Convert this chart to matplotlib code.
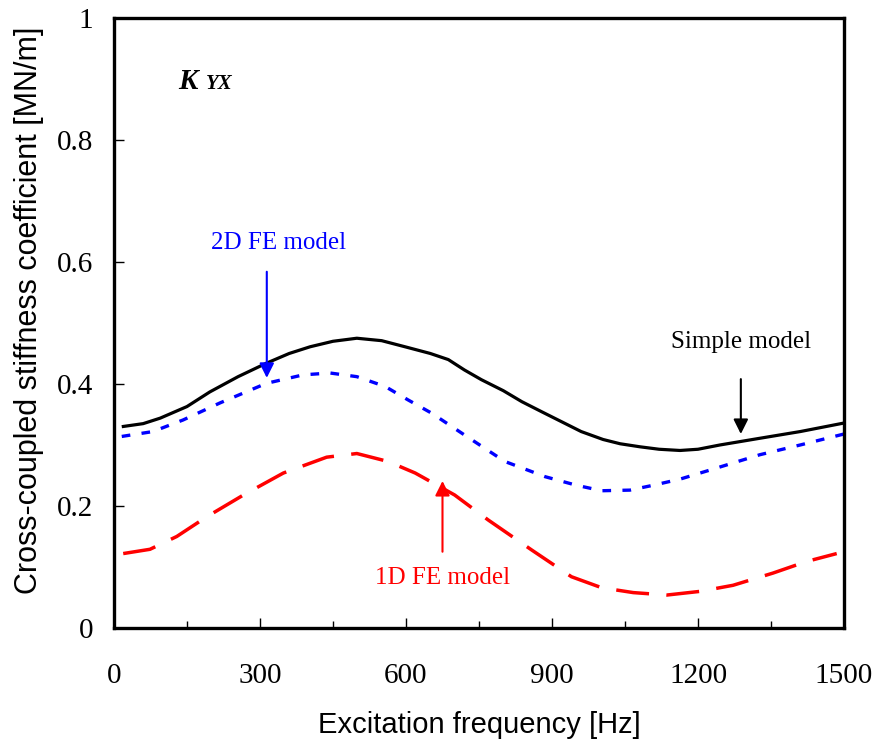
import matplotlib
matplotlib.use('Agg')
import matplotlib.pyplot as plt
from matplotlib.ticker import MultipleLocator, FuncFormatter

# frequency [Hz] and stiffness [MN/m]
freq_simple = [16, 60, 95, 150, 197, 255, 313, 360, 403, 450, 499, 550, 598,
               650, 687, 720, 755, 800, 838, 880, 920, 960, 1005, 1040, 1081,
               1120, 1163, 1200, 1245, 1327, 1410, 1500]
k_simple = [0.330, 0.335, 0.344, 0.363, 0.387, 0.412, 0.434, 0.450, 0.461,
            0.470, 0.475, 0.471, 0.461, 0.450, 0.440, 0.423, 0.407, 0.389,
            0.371, 0.354, 0.338, 0.322, 0.309, 0.302, 0.297, 0.293, 0.291,
            0.293, 0.300, 0.311, 0.322, 0.336]

freq_2d = [16, 80, 142, 218, 313, 389, 444, 499, 557, 604, 653, 721, 803,
           886, 950, 1002, 1060, 1108, 1163, 1225, 1327, 1410, 1500]
k_2d = [0.314, 0.322, 0.341, 0.369, 0.401, 0.415, 0.418, 0.412, 0.396,
        0.374, 0.352, 0.316, 0.273, 0.248, 0.234, 0.225, 0.226, 0.234,
        0.244, 0.259, 0.284, 0.300, 0.318]

freq_1d = [19, 74, 129, 190, 266, 348, 437, 499, 563, 619, 700, 769, 858,
           940, 1002, 1067, 1136, 1204, 1272, 1354, 1423, 1485]
k_1d = [0.122, 0.129, 0.150, 0.182, 0.218, 0.254, 0.280, 0.286, 0.273,
        0.254, 0.218, 0.177, 0.128, 0.084, 0.066, 0.058, 0.054, 0.060,
        0.070, 0.090, 0.109, 0.122]

serif = ['Liberation Serif', 'DejaVu Serif']
sans = ['Liberation Sans', 'DejaVu Sans']

fig = plt.figure(figsize=(8.78, 7.43), dpi=100)
ax = fig.add_axes([0.1298, 0.1548, 0.8315, 0.8210])

ax.plot(freq_simple, k_simple, color='black', lw=2.3, solid_capstyle='butt')
ax.plot(freq_2d, k_2d, color='#0000ff', lw=2.4, dashes=(2.6, 3.4))
ax.plot(freq_1d, k_1d, color='#ff0000', lw=2.5, dashes=(9.5, 5))

ax.set_xlim(0, 1500)
ax.set_ylim(0, 1)
ax.xaxis.set_major_locator(MultipleLocator(300))
ax.xaxis.set_minor_locator(MultipleLocator(150))
ax.yaxis.set_major_locator(MultipleLocator(0.2))
ax.yaxis.set_major_formatter(FuncFormatter(lambda v, p: '%g' % round(v, 2)))
ax.tick_params(which='both', direction='in', width=1, colors='black')
ax.tick_params(which='major', length=7)
ax.tick_params(which='minor', length=5)
ax.tick_params(axis='x', which='major', pad=25)
ax.tick_params(axis='y', which='major', pad=15)
for lab in ax.get_xticklabels() + ax.get_yticklabels():
    lab.set_family(serif)
    lab.set_fontsize(21)

for s in ax.spines.values():
    s.set_linewidth(2.4)

ax.set_xlabel('Excitation frequency [Hz]', family=sans, fontsize=21, labelpad=16)
ax.set_ylabel('Cross-coupled stiffness coefficient [MN/m]', family=sans,
              fontsize=22, labelpad=9)
ax.yaxis.label.set_y(0.52)

# K_YX tag
ax.text(131, 0.884, 'K', family=serif, fontsize=21, fontweight='bold',
        style='italic', va='baseline', ha='left')
ax.text(189, 0.884, 'YX', family=serif, fontsize=15, fontweight='bold',
        style='italic', va='baseline', ha='left')

arrow = dict(arrowstyle='-|>', lw=1.5, mutation_scale=22, shrinkA=0, shrinkB=0)

ax.text(338, 0.631, '2D FE model', color='#0000ff', family=serif, fontsize=18,
        ha='center', va='center')
ax.annotate('', xy=(314, 0.410), xytext=(314, 0.584),
            arrowprops=dict(arrow, color='#0000ff'))

ax.text(1288, 0.469, 'Simple model', color='black', family=serif, fontsize=18,
        ha='center', va='center')
ax.annotate('', xy=(1288, 0.318), xytext=(1288, 0.408),
            arrowprops=dict(arrow, color='black'))

ax.text(676, 0.082, '1D FE model', color='#ff0000', family=serif, fontsize=18,
        ha='center', va='center')
ax.annotate('', xy=(675, 0.241), xytext=(675, 0.125),
            arrowprops=dict(arrow, color='#ff0000'))

fig.savefig('out.png', dpi=100)
